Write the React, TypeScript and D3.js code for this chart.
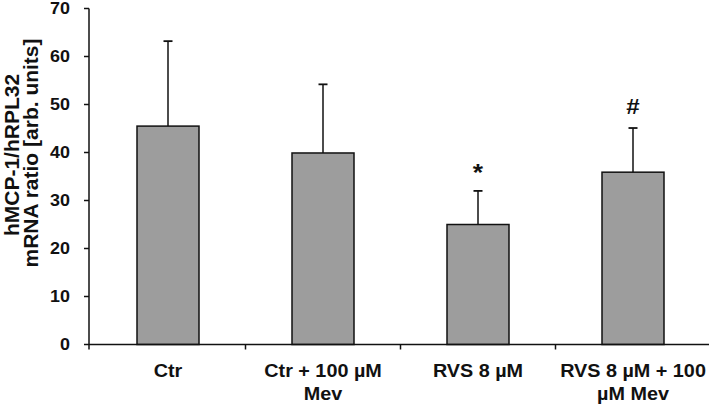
import React from "react";
import * as d3 from "d3";

const categories = ["Ctr", "Ctr + 100 µM Mev", "RVS 8 µM", "RVS 8 µM + 100 µM Mev"];
const categoryLines = [["Ctr"], ["Ctr + 100 µM", "Mev"], ["RVS 8 µM"], ["RVS 8 µM + 100", "µM Mev"]];
const means = [45.5, 39.9, 25.0, 35.9];
const errors = [17.7, 14.3, 7.0, 9.2];
const marks = ["", "", "*", "#"];
const yTicks = [0, 10, 20, 30, 40, 50, 60, 70];

export default function App() {
  const W = 709, H = 404;
  const x0 = 89, x1 = 709, yBottom = 344.5, yTop = 8.5;
  const x = d3.scaleBand<string>().domain(categories).range([x0 + 1.5, x1 + 1.5]).paddingInner(0.6).paddingOuter(0.3);
  const y = d3.scaleLinear().domain([0, 70]).range([yBottom, yTop]);
  const bandStep = x.step();
  const font = "Liberation Sans, Arial, sans-serif";
  const boundaries = categories.slice(1).map((c) => (x(c) as number) - (bandStep - x.bandwidth()) / 2);
  const sx = 1.1;
  return (
    <svg width={W} height={H} style={{ position: "absolute", left: 0, top: 0 }} fontFamily={font}>
      <rect width={W} height={H} fill="#fff" />
      {categories.map((c, i) => {
        const bx = x(c) as number;
        const bw = x.bandwidth();
        const cx = bx + bw / 2;
        const top = y(means[i]);
        const et = y(means[i] + errors[i]);
        return (
          <g key={c}>
            <line x1={cx} x2={cx} y1={top} y2={et} stroke="#111" strokeWidth={1.5} />
            <line x1={cx - 4.5} x2={cx + 4.5} y1={et} y2={et} stroke="#111" strokeWidth={1.8} />
            <rect x={bx} y={top} width={bw} height={yBottom - top} fill="#9d9d9d" stroke="#111" strokeWidth={1.5} />
            {marks[i] && (
              <text transform={`translate(${cx},${marks[i] === "*" ? et - 10 : et - 14}) scale(${sx},1)`} textAnchor="middle" fontWeight="bold" fontSize={marks[i] === "*" ? 24 : 22} fill="#111">
                {marks[i]}
              </text>
            )}
            {categoryLines[i].map((l, j) => (
              <text key={j} transform={`translate(${cx},${377 + j * 23}) scale(${sx},1)`} textAnchor="middle" fontWeight="bold" fontSize={18} fill="#111">
                {l}
              </text>
            ))}
          </g>
        );
      })}
      <line x1={x0} x2={x0} y1={yTop} y2={yBottom} stroke="#111" strokeWidth={1.5} />
      <line x1={x0} x2={x1} y1={yBottom} y2={yBottom} stroke="#111" strokeWidth={1.5} />
      {boundaries.map((b, i) => (
        <line key={i} x1={b} x2={b} y1={yBottom} y2={yBottom + 5} stroke="#111" strokeWidth={1.5} />
      ))}
      <line x1={x0} x2={x0} y1={yBottom} y2={yBottom + 5} stroke="#111" strokeWidth={1.5} />
      {yTicks.map((t) => (
        <g key={t}>
          <line x1={x0 - 5} x2={x0} y1={y(t)} y2={y(t)} stroke="#111" strokeWidth={1.5} />
          <text transform={`translate(70,${y(t)}) scale(1.12,1)`} dy="0.36em" textAnchor="end" fontWeight="bold" fontSize={16} fill="#111">
            {t}
          </text>
        </g>
      ))}
      <text transform={`translate(19,155) rotate(-90)`} textAnchor="middle" fontWeight="bold" fontSize={21} fill="#111">
        hMCP-1/hRPL32
      </text>
      <text transform={`translate(38,153) rotate(-90)`} textAnchor="middle" fontWeight="bold" fontSize={21} fill="#111">
        mRNA ratio [arb. units]
      </text>
    </svg>
  );
}
